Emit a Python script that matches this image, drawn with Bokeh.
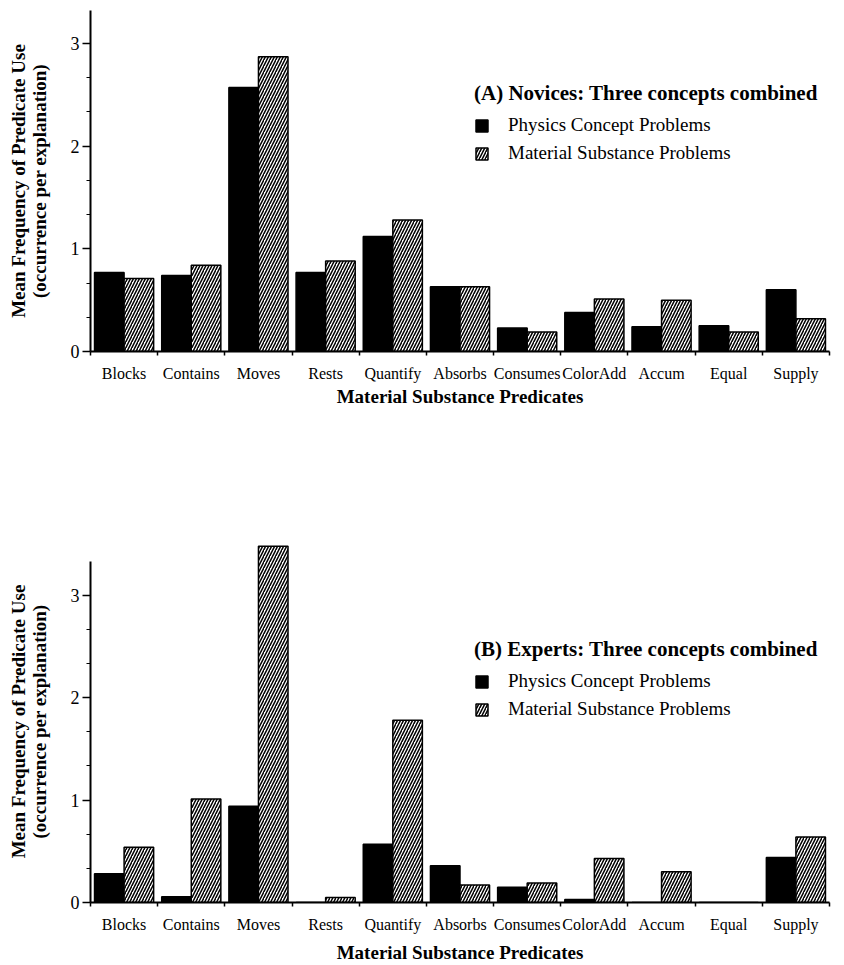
from bokeh.plotting import figure
from bokeh.models import (ColumnDataSource, FixedTicker, SingleIntervalTicker,
                          Legend, LegendItem, Range1d)
from bokeh.transform import dodge
from bokeh.layouts import column
from bokeh.embed import file_html
from bokeh.resources import INLINE

categories = ["Blocks", "Contains", "Moves", "Rests", "Quantify", "Absorbs",
              "Consumes", "ColorAdd", "Accum", "Equal", "Supply"]
series_names = ["Physics Concept Problems", "Material Substance Problems"]
novice_physics = [0.77, 0.74, 2.57, 0.77, 1.12, 0.63, 0.23, 0.38, 0.24, 0.25, 0.60]
novice_material = [0.71, 0.84, 2.87, 0.88, 1.28, 0.63, 0.19, 0.51, 0.50, 0.19, 0.32]
expert_physics = [0.28, 0.055, 0.94, 0.0, 0.57, 0.36, 0.15, 0.03, 0.0, 0.0, 0.44]
expert_material = [0.54, 1.01, 3.48, 0.05, 1.78, 0.17, 0.19, 0.43, 0.30, 0.0, 0.64]
titles = ["(A) Novices: Three concepts combined", "(B) Experts: Three concepts combined"]
x_label = "Material Substance Predicates"
y_label = "Mean Frequency of Predicate Use\n(occurrence per explanation)"

FONT = "Liberation Serif"


def make_panel(physics, material, title, height, b_top, b_bottom, y_end, axis_top,
               legend_loc, xlabel_standoff):
    n = len(categories)
    xs = [i + 0.5 for i in range(n)]
    src = ColumnDataSource(dict(x=xs, cat=categories, phys=physics, mat=material))
    p = figure(width=836, height=height, output_backend="svg", toolbar_location=None,
               x_range=Range1d(0, n), y_range=Range1d(0, y_end),
               min_border_left=90, min_border_right=7, min_border_top=b_top,
               min_border_bottom=b_bottom)
    p.outline_line_color = None
    p.grid.grid_line_color = None
    p.background_fill_color = "white"

    w = 0.44
    r1 = p.vbar(x=dodge("x", -w / 2, range=p.x_range), top="phys", width=w, source=src,
                fill_color="black", line_color="black", line_width=1.5)
    r2 = p.vbar(x=dodge("x", w / 2, range=p.x_range), top="mat", width=w, source=src,
                fill_color="white", line_color="black", line_width=1.5,
                hatch_pattern="/", hatch_color="black", hatch_scale=6, hatch_weight=1.5)

    # x axis: labels at category centres, ticks at category boundaries
    xa = p.xaxis[0]
    xa.ticker = FixedTicker(ticks=xs, minor_ticks=list(range(n + 1)))
    xa.major_label_overrides = {x: c for x, c in zip(xs, categories)}
    xa.major_tick_line_color = None
    xa.major_tick_out = 0
    xa.major_tick_in = 0
    xa.minor_tick_out = 4
    xa.minor_tick_in = 0
    xa.minor_tick_line_width = 1.5
    xa.minor_tick_line_color = "black"
    xa.axis_line_width = 2
    xa.axis_line_color = "black"
    xa.major_label_standoff = 9
    xa.major_label_text_font = FONT
    xa.major_label_text_font_size = "16px"
    xa.major_label_text_color = "black"
    xa.axis_label = x_label
    xa.axis_label_text_font = FONT
    xa.axis_label_text_font_size = "19px"
    xa.axis_label_text_font_style = "bold"
    xa.axis_label_text_color = "black"
    xa.axis_label_standoff = xlabel_standoff

    ya = p.yaxis[0]
    ya.ticker = SingleIntervalTicker(interval=1, num_minor_ticks=3)
    ya.bounds = (0, axis_top)
    ya.axis_line_width = 2
    ya.axis_line_color = "black"
    ya.major_tick_out = 8
    ya.major_tick_in = 0
    ya.major_tick_line_width = 1.5
    ya.major_tick_line_color = "black"
    ya.minor_tick_out = 4
    ya.minor_tick_in = 0
    ya.minor_tick_line_color = "black"
    ya.major_label_standoff = 3
    ya.major_label_text_font = FONT
    ya.major_label_text_font_size = "18px"
    ya.major_label_text_color = "black"
    ya.axis_label = y_label
    ya.axis_label_text_font = FONT
    ya.axis_label_text_font_size = "19px"
    ya.axis_label_text_font_style = "bold"
    ya.axis_label_text_color = "black"
    ya.axis_label_text_line_height = 1.0
    ya.axis_label_standoff = 18

    leg = Legend(items=[LegendItem(label=series_names[0], renderers=[r1]),
                        LegendItem(label=series_names[1], renderers=[r2])],
                 location=legend_loc, title=title)
    leg.title_text_font = FONT
    leg.title_text_font_size = "21px"
    leg.title_text_font_style = "bold"
    leg.title_text_color = "black"
    leg.title_standoff = 8
    leg.label_text_font = FONT
    leg.label_text_font_size = "19px"
    leg.label_text_color = "black"
    leg.glyph_width = 15
    leg.glyph_height = 15
    leg.label_standoff = 19
    leg.label_height = 20
    leg.spacing = 6
    leg.padding = 0
    leg.margin = 0
    leg.border_line_color = None
    leg.background_fill_alpha = 0
    p.add_layout(leg, "center")
    return p


p1 = make_panel(novice_physics, novice_material, titles[0], 478, 10, 127, 3.32, 3.32,
                (384, 187), 1)
p2 = make_panel(expert_physics, expert_material, titles[1], 487, 62, 62, 3.535, 3.33,
                (384, 182), 6)

layout = column(p1, p2, spacing=0)
open("out.html", "w").write(file_html(layout, INLINE))
